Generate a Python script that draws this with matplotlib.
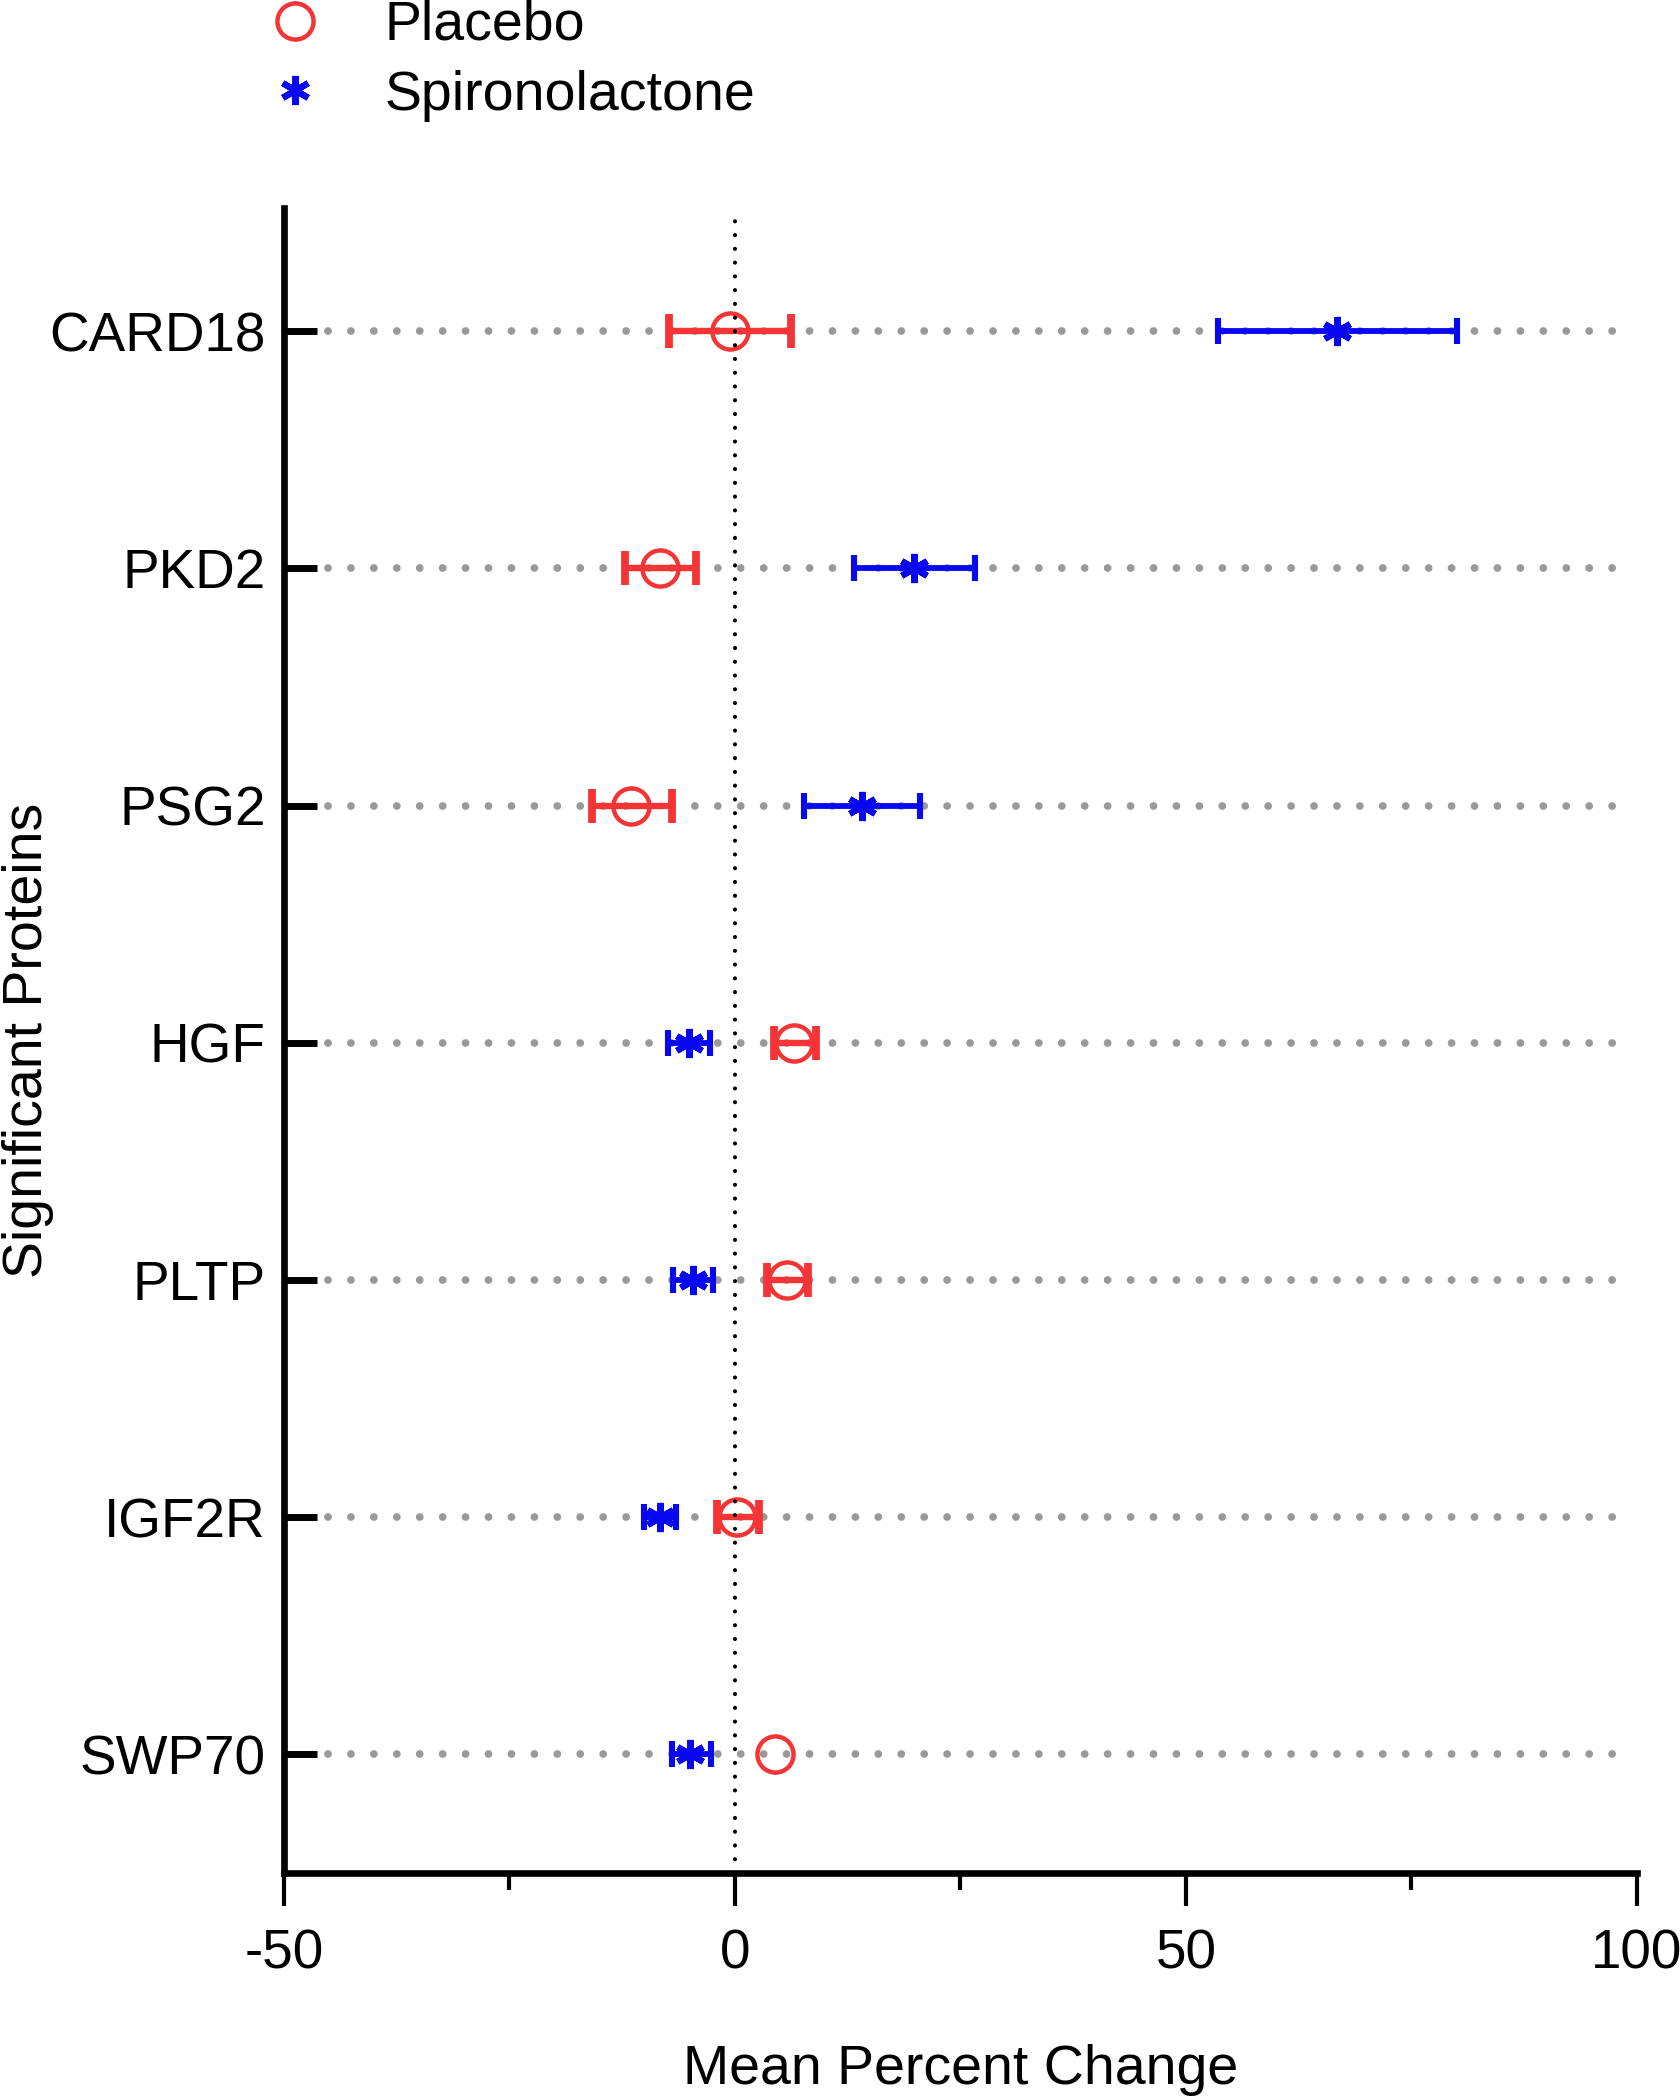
import matplotlib
matplotlib.use("Agg")
import matplotlib.pyplot as plt
from matplotlib.lines import Line2D
import numpy as np

plt.rcParams['font.family'] = ['Liberation Sans', 'DejaVu Sans']
plt.rcParams['lines.scale_dashes'] = False

# ---- data ----
proteins = ['CARD18', 'PKD2', 'PSG2', 'HGF', 'PLTP', 'IGF2R', 'SWP70']
placebo_mean = [-0.5, -8.3, -11.5, 6.6, 5.8, 0.2, 4.4]
placebo_lo = [-7.3, -12.2, -15.9, 4.3, 3.6, -2.0, np.nan]
placebo_hi = [6.2, -4.3, -7.0, 9.0, 8.1, 2.7, np.nan]
spiro_mean = [66.7, 19.8, 14.1, -5.1, -4.7, -8.3, -5.0]
spiro_lo = [53.5, 13.2, 7.7, -7.4, -6.9, -10.1, -7.0]
spiro_hi = [80.0, 26.6, 20.5, -2.8, -2.4, -6.5, -2.7]
xticks = [-50, 0, 50, 100]
xminor = [-25, 25, 75]

RED = '#F53535'
BLUE = '#0808F0'

fig = plt.figure(figsize=(16.8, 21), dpi=100)
ax = fig.add_axes([0.169, 0.1081, 0.9744 - 0.169, 0.901 - 0.1081])

y = np.arange(len(proteins))

# gray dotted guide lines
for yi in y:
    ax.plot([-45.1, 99.0], [yi, yi], color='#999999', lw=5.6,
            dashes=(0.01, 16.5), dash_capstyle='round', zorder=1)

pm = np.array(placebo_mean)
plo = np.array(placebo_lo)
phi = np.array(placebo_hi)
sm = np.array(spiro_mean)
ok = np.isfinite(plo) & np.isfinite(phi)
perr = [(pm - plo)[ok], (phi - pm)[ok]]
serr = [sm - np.array(spiro_lo), np.array(spiro_hi) - sm]

ax.errorbar(pm[ok], y[ok], xerr=perr, fmt='none', ecolor=RED,
            elinewidth=4.6, capsize=12, capthick=5.6, zorder=3)
ax.plot(pm, y, linestyle='none', marker='o', mfc='none', mec=RED,
        ms=26, mew=3.2, zorder=4)
ax.errorbar(sm, y, xerr=serr, fmt='none', ecolor=BLUE,
            elinewidth=4.2, capsize=9.5, capthick=4.4, zorder=3)
ax.plot(sm, y, linestyle='none', marker=(6, 2, 0), color=BLUE, ms=21, mew=4.5,
        zorder=4)

# zero reference line
ax.axvline(0, color='black', lw=3.0, dashes=(0.01, 9.9), dash_capstyle='round',
           zorder=5)

ax.set_xlim(-50, 100)
ax.set_ylim(6.5, -0.52)
ax.set_yticks(y)
ax.set_yticklabels(proteins)
ax.set_xticks(xticks)
ax.set_xticklabels([str(v) for v in xticks])
ax.set_xticks(xminor, minor=True)

for s in ['top', 'right']:
    ax.spines[s].set_visible(False)
for s in ['left', 'bottom']:
    ax.spines[s].set_linewidth(4.8)

ax.tick_params(axis='y', direction='in', length=24, width=5, labelsize=39.5, pad=13)
ax.tick_params(axis='x', which='major', direction='out', length=24, width=3,
               labelsize=39.5, pad=16)
ax.tick_params(axis='x', which='minor', direction='out', length=12, width=3)

ax.set_xlabel('Mean Percent Change', fontsize=40, labelpad=46)
ax.set_ylabel('Significant Proteins', fontsize=40)
ax.yaxis.set_label_coords(-0.17, 0.5)

handles = [
    Line2D([], [], linestyle='none', marker='o', mfc='none', mec=RED, ms=26, mew=3.2),
    Line2D([], [], linestyle='none', marker=(6, 2, 0), color=BLUE, ms=21, mew=4.5),
]
fig.legend(handles, ['Placebo', 'Spironolactone'], loc='upper left',
           bbox_to_anchor=(0.159, 1.0), frameon=False, fontsize=40,
           handlelength=1.0, handletextpad=1.12, labelspacing=0.32,
           borderpad=0, borderaxespad=0)

fig.savefig('out.png', dpi=100)
